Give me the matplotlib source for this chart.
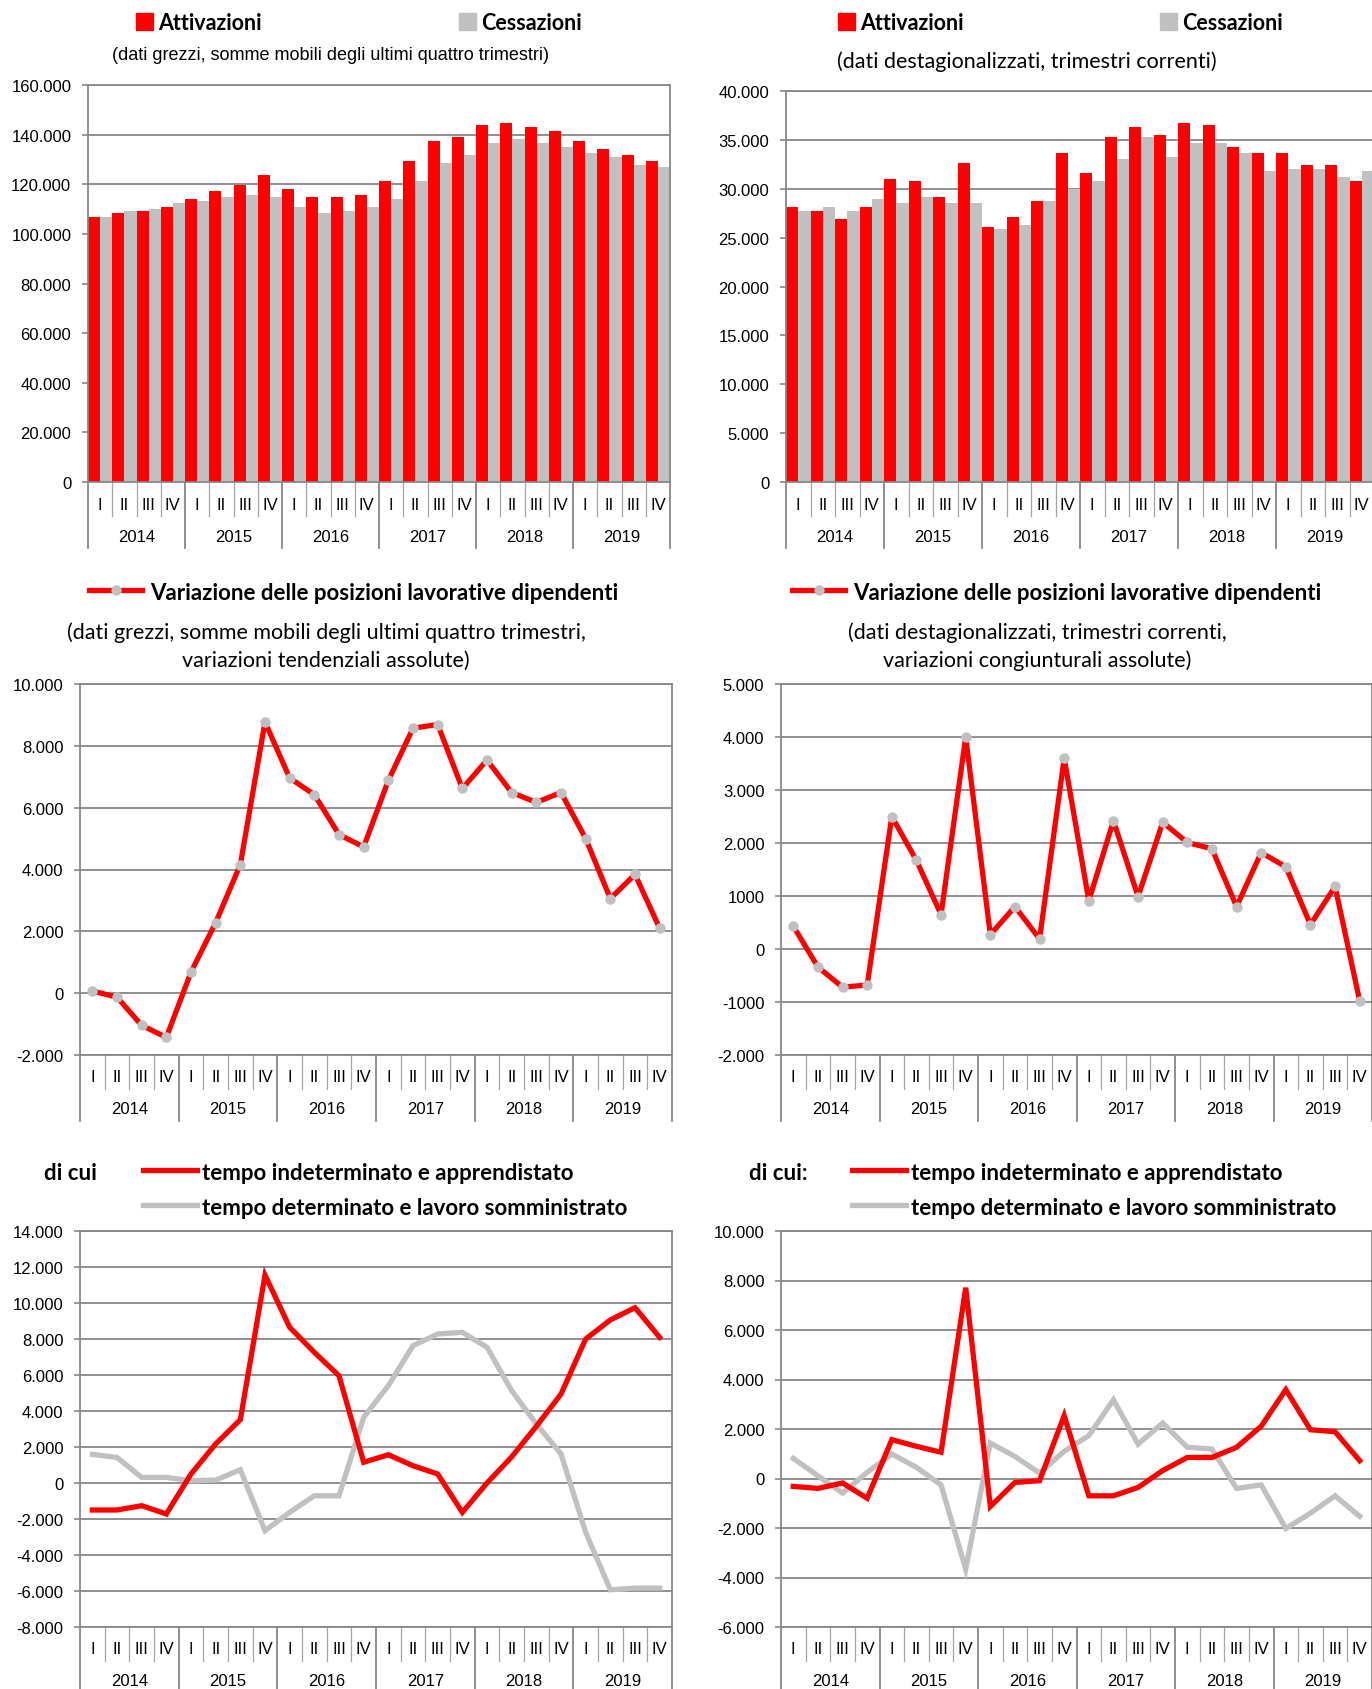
import numpy as np
import matplotlib
matplotlib.use("Agg")
import matplotlib.pyplot as plt
from matplotlib.lines import Line2D
from matplotlib.patches import Rectangle
from matplotlib import rcParams

rcParams['font.family'] = ['Liberation Sans', 'DejaVu Sans']

W, H = 1372, 1690
RED = '#FF0000'
GREY = '#C0C0C0'
GRID = '#878787'
HEAD_FONT = ['Lato', 'Open Sans', 'DejaVu Sans']

quarters = ['I', 'II', 'III', 'IV']
years = ['2014', '2015', '2016', '2017', '2018', '2019']

# dati grezzi, somme mobili degli ultimi quattro trimestri
attivazioni_grezzi = [106800, 108400, 109200, 110800, 114000, 117300, 119700, 123700,
                      118100, 114800, 114800, 115600, 121300, 129300, 137400, 139000,
                      143800, 144600, 143000, 141400, 137400, 134100, 131700, 129300]
cessazioni_grezzi = [106800, 109200, 110000, 112400, 113200, 114800, 115600, 114800,
                     110800, 108400, 109200, 110800, 114000, 121300, 128500, 131700,
                     136500, 138200, 136500, 134900, 132500, 130900, 127700, 126900]

# dati destagionalizzati, trimestri correnti
attivazioni_destag = [28130, 27720, 26910, 28130, 30990, 30780, 29150, 32620,
                      26090, 27110, 28740, 33640, 31600, 35270, 36290, 35480,
                      36700, 36500, 34250, 33640, 33640, 32420, 32420, 30780]
cessazioni_destag = [27720, 28130, 27720, 28950, 28540, 29150, 28540, 28540,
                     25890, 26290, 28740, 29970, 30780, 33030, 35270, 33230,
                     34660, 34660, 33640, 31800, 32010, 32010, 31190, 31800]

# variazione delle posizioni lavorative dipendenti
variazione_grezzi = [70, -130, -1040, -1430, 680, 2280, 4160, 8770,
                     6960, 6420, 5130, 4730, 6880, 8570, 8690, 6620,
                     7540, 6490, 6170, 6490, 5000, 3060, 3840, 2100]
variazione_destag = [430, -340, -720, -680, 2500, 1670, 650, 4000,
                     270, 800, 190, 3600, 910, 2420, 990, 2390,
                     2010, 1890, 800, 1820, 1550, 460, 1180, -980]

# di cui
indeterminato_grezzi = [-1500, -1500, -1260, -1720, 500, 2170, 3520, 11550,
                        8650, 7260, 5960, 1150, 1570, 960, 500, -1630,
                        0, 1450, 3150, 4940, 8000, 9060, 9740, 8090]
determinato_grezzi = [1590, 1420, 310, 310, 130, 160, 740, -2650,
                      -1630, -710, -710, 3650, 5410, 7630, 8280, 8370,
                      7540, 5130, 3280, 1610, -2740, -5930, -5840, -5840]
indeterminato_destag = [-320, -400, -180, -800, 1570, 1300, 1060, 7710,
                        -1130, -160, -90, 2540, -700, -700, -360, 320,
                        850, 850, 1260, 2110, 3590, 1970, 1890, 720]
determinato_destag = [810, 110, -590, 250, 990, 450, -260, -3660,
                      1430, 890, 220, 1100, 1730, 3180, 1390, 2240,
                      1260, 1190, -400, -260, -2020, -1400, -700, -1530]

ticks_grezzi_bar = list(range(0, 160001, 20000))
ticks_destag_bar = list(range(0, 40001, 5000))
ticks_grezzi_var = list(range(-2000, 10001, 2000))
ticks_destag_var = list(range(-2000, 5001, 1000))
labels_destag_var = ['-2.000', '-1000', '0', '1000', '2.000', '3.000', '4.000', '5.000']
ticks_grezzi_dicui = list(range(-8000, 14001, 2000))
ticks_destag_dicui = list(range(-6000, 10001, 2000))


def it_fmt(v):
    return f"{int(v):,}".replace(",", ".")


def fx(px):
    return px / W


def fy(py):
    return 1 - py / H


def make_axes(fig, box):
    left, top, right, bottom = box
    return fig.add_axes([fx(left), fy(bottom), (right - left) / W, (bottom - top) / H])


def style_axes(ax, box, ticks, labels=None):
    height = box[3] - box[1]
    n = len(years) * 4
    ax.set_xlim(-0.5, n - 0.5)
    ax.set_ylim(ticks[0], ticks[-1])
    ax.set_yticks(ticks)
    if labels is None:
        labels = [it_fmt(t) for t in ticks]
    ax.set_yticklabels(labels)
    ax.set_xticks([])
    ax.tick_params(axis='y', direction='out', length=4, width=1.2, color=GRID,
                   pad=8, labelsize=12)
    ax.grid(axis='y', color=GRID, linewidth=1.3)
    ax.set_axisbelow(True)
    for s in ax.spines.values():
        s.set_color(GRID)
        s.set_linewidth(1.3)

    # categorie a due livelli (trimestre / anno)
    trans = ax.get_xaxis_transform()
    for k in range(n + 1):
        if k % 4 == 0:
            ax.plot([k - 0.5, k - 0.5], [0, -66 / height], transform=trans,
                    color=GRID, lw=1.3, clip_on=False)
        else:
            ax.plot([k - 0.5, k - 0.5], [0, -34 / height], transform=trans,
                    color='#A6A6A6', lw=0.9, clip_on=False)
    for i in range(n):
        ax.text(i, -22 / height, quarters[i % 4], transform=trans, ha='center',
                va='center', fontsize=12)
    for j, y in enumerate(years):
        ax.text(4 * j + 1.5, -54 / height, y, transform=trans, ha='center',
                va='center', fontsize=12)


def bar_panel(fig, box, att, ces, ticks):
    ax = make_axes(fig, box)
    x = np.arange(len(att))
    ax.bar(x - 0.25, att, width=0.5, color=RED, zorder=2)
    ax.bar(x + 0.25, ces, width=0.5, color=GREY, zorder=2)
    style_axes(ax, box, ticks)
    return ax


def var_panel(fig, box, values, ticks, labels=None):
    ax = make_axes(fig, box)
    x = np.arange(len(values))
    ax.plot(x, values, color=RED, lw=3.8, zorder=3, clip_on=False,
            marker='o', markersize=7.5, markerfacecolor=GREY, markeredgewidth=0)
    style_axes(ax, box, ticks, labels)
    return ax


def dicui_panel(fig, box, indet, det, ticks):
    ax = make_axes(fig, box)
    x = np.arange(len(indet))
    ax.plot(x, det, color=GREY, lw=3.8, zorder=3, solid_joinstyle='miter')
    ax.plot(x, indet, color=RED, lw=3.8, zorder=4, solid_joinstyle='miter')
    style_axes(ax, box, ticks)
    return ax


def header_bars(fig, x_red, x_grey, y, subtitle, sub_x, sub_y, sub_font):
    for xs, col, label in [(x_red, RED, 'Attivazioni'), (x_grey, GREY, 'Cessazioni')]:
        fig.add_artist(Rectangle((fx(xs), fy(y + 8.5)), 17 / W, 17 / H,
                                 transform=fig.transFigure, color=col))
        fig.text(fx(xs + 22), fy(y + 2), label, ha='left', va='center',
                 fontsize=15.5, fontweight='bold', family=HEAD_FONT)
    fig.text(fx(sub_x), fy(sub_y), subtitle, ha='center', va='center', **sub_font)


def header_var(fig, x0, y, sub_lines, sub_x):
    fig.add_artist(Line2D([fx(x0), fx(x0 + 53)], [fy(y), fy(y)], transform=fig.transFigure,
                          color=RED, lw=3.8))
    fig.add_artist(Line2D([fx(x0 + 26.5)], [fy(y)], transform=fig.transFigure,
                          marker='o', markersize=7.5, markerfacecolor=GREY,
                          markeredgewidth=0, linestyle='none'))
    fig.text(fx(x0 + 61), fy(y + 3), 'Variazione delle posizioni lavorative dipendenti',
             ha='left', va='center', fontsize=16, fontweight='bold', family=HEAD_FONT)
    for line, yy in zip(sub_lines, [633, 661]):
        fig.text(fx(sub_x), fy(yy), line, ha='center', va='center', fontsize=15.5,
                 family=HEAD_FONT)


def header_dicui(fig, x_title, title, x0):
    fig.text(fx(x_title), fy(1173), title, ha='left', va='center', fontsize=16,
             fontweight='bold', family=HEAD_FONT)
    for col, label, yy in [(RED, 'tempo indeterminato e apprendistato', 1171),
                           (GREY, 'tempo determinato e lavoro somministrato', 1206)]:
        fig.add_artist(Line2D([fx(x0), fx(x0 + 54)], [fy(yy), fy(yy)],
                              transform=fig.transFigure, color=col, lw=3.8))
        fig.text(fx(x0 + 59), fy(yy + 3), label, ha='left', va='center', fontsize=16,
                 fontweight='bold', family=HEAD_FONT)


fig = plt.figure(figsize=(W / 100, H / 100), dpi=100)

box_tl = (88, 86, 670, 483)
box_tr = (786, 92, 1374, 483)
box_ml = (80, 685, 672, 1056)
box_mr = (781, 685, 1372, 1056)
box_bl = (80, 1232, 672, 1628)
box_br = (781, 1232, 1372, 1628)

bar_panel(fig, box_tl, attivazioni_grezzi, cessazioni_grezzi, ticks_grezzi_bar)
bar_panel(fig, box_tr, attivazioni_destag, cessazioni_destag, ticks_destag_bar)
var_panel(fig, box_ml, variazione_grezzi, ticks_grezzi_var)
var_panel(fig, box_mr, variazione_destag, ticks_destag_var, labels_destag_var)
dicui_panel(fig, box_bl, indeterminato_grezzi, determinato_grezzi, ticks_grezzi_dicui)
dicui_panel(fig, box_br, indeterminato_destag, determinato_destag, ticks_destag_dicui)

header_bars(fig, 136, 459, 22,
            '(dati grezzi, somme mobili degli ultimi quattro trimestri)', 330, 56,
            dict(fontsize=13, family=['Liberation Sans', 'DejaVu Sans']))
header_bars(fig, 838, 1160, 22,
            '(dati destagionalizzati, trimestri correnti)', 1027, 62,
            dict(fontsize=15.5, family=HEAD_FONT))

header_var(fig, 89, 591,
           ['(dati grezzi, somme mobili degli ultimi quattro trimestri,',
            'variazioni tendenziali assolute)'], 326)
header_var(fig, 792, 591,
           ['(dati destagionalizzati, trimestri correnti,',
            'variazioni congiunturali assolute)'], 1037)

header_dicui(fig, 44, 'di cui', 143)
header_dicui(fig, 749, 'di cui:', 852)

fig.savefig('out.png', dpi=100, facecolor='white')
